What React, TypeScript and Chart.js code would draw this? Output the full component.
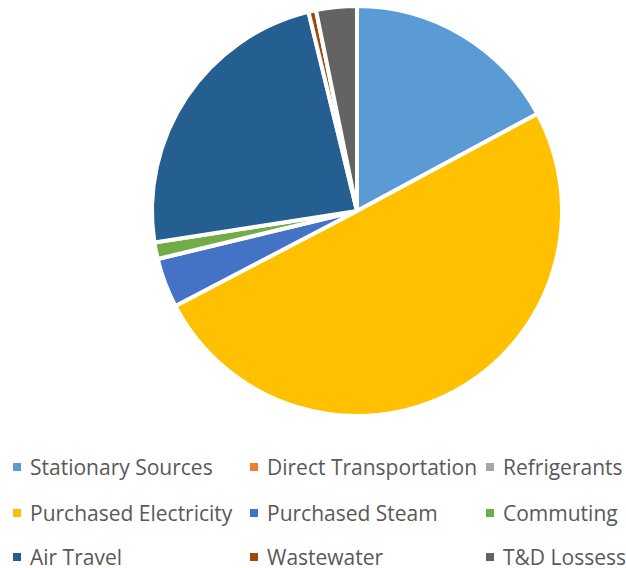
import React, { useEffect, useRef } from "react";
import { Chart, registerables } from "chart.js";

Chart.register(...registerables);

const categories = [
  "Stationary Sources",
  "Direct Transportation",
  "Refrigerants",
  "Purchased Electricity",
  "Purchased Steam",
  "Commuting",
  "Air Travel",
  "Wastewater",
  "T&D Lossess",
];
const values = [17.1, 0, 0, 50.1, 3.9, 1.3, 23.6, 0.6, 3.2];
const colors = [
  "#5B9BD5",
  "#ED7D31",
  "#A5A5A5",
  "#FFC000",
  "#4472C4",
  "#70AD47",
  "#255E91",
  "#9E480E",
  "#636363",
];

const legendCols = [13, 250, 486];
const legendRows = [467, 513, 557];

export default function App() {
  const ref = useRef<HTMLCanvasElement | null>(null);
  useEffect(() => {
    if (!ref.current) return;
    const chart = new Chart(ref.current, {
      type: "pie",
      data: {
        labels: categories,
        datasets: [
          {
            data: values,
            backgroundColor: colors,
            borderColor: "#ffffff",
            borderWidth: 4,
            hoverOffset: 0,
          },
        ],
      },
      options: {
        responsive: false,
        animation: false,
        layout: { padding: { left: 150, right: 62, top: 4, bottom: 12 } },
        plugins: { legend: { display: false }, tooltip: { enabled: false } },
      },
    });
    return () => chart.destroy();
  }, []);

  return (
    <div
      style={{
        position: "fixed",
        left: 0,
        top: 0,
        width: 626,
        height: 568,
        background: "#fff",
        overflow: "hidden",
      }}
    >
      <canvas ref={ref} width={626} height={430} style={{ position: "absolute", left: 0, top: 0 }} />
      {categories.map((c, i) => {
        const col = i % 3;
        const row = Math.floor(i / 3);
        return (
          <div
            key={c}
            style={{
              position: "absolute",
              left: legendCols[col],
              top: legendRows[row] - 15,
              height: 30,
              display: "flex",
              alignItems: "center",
              whiteSpace: "nowrap",
              fontFamily: "'Open Sans', sans-serif",
              fontSize: 21,
              color: "#595959",
            }}
          >
            <span
              style={{
                display: "inline-block",
                width: 8,
                height: 8,
                background: colors[i],
                marginRight: 9,
              }}
            />
            <span>{c}</span>
          </div>
        );
      })}
    </div>
  );
}
